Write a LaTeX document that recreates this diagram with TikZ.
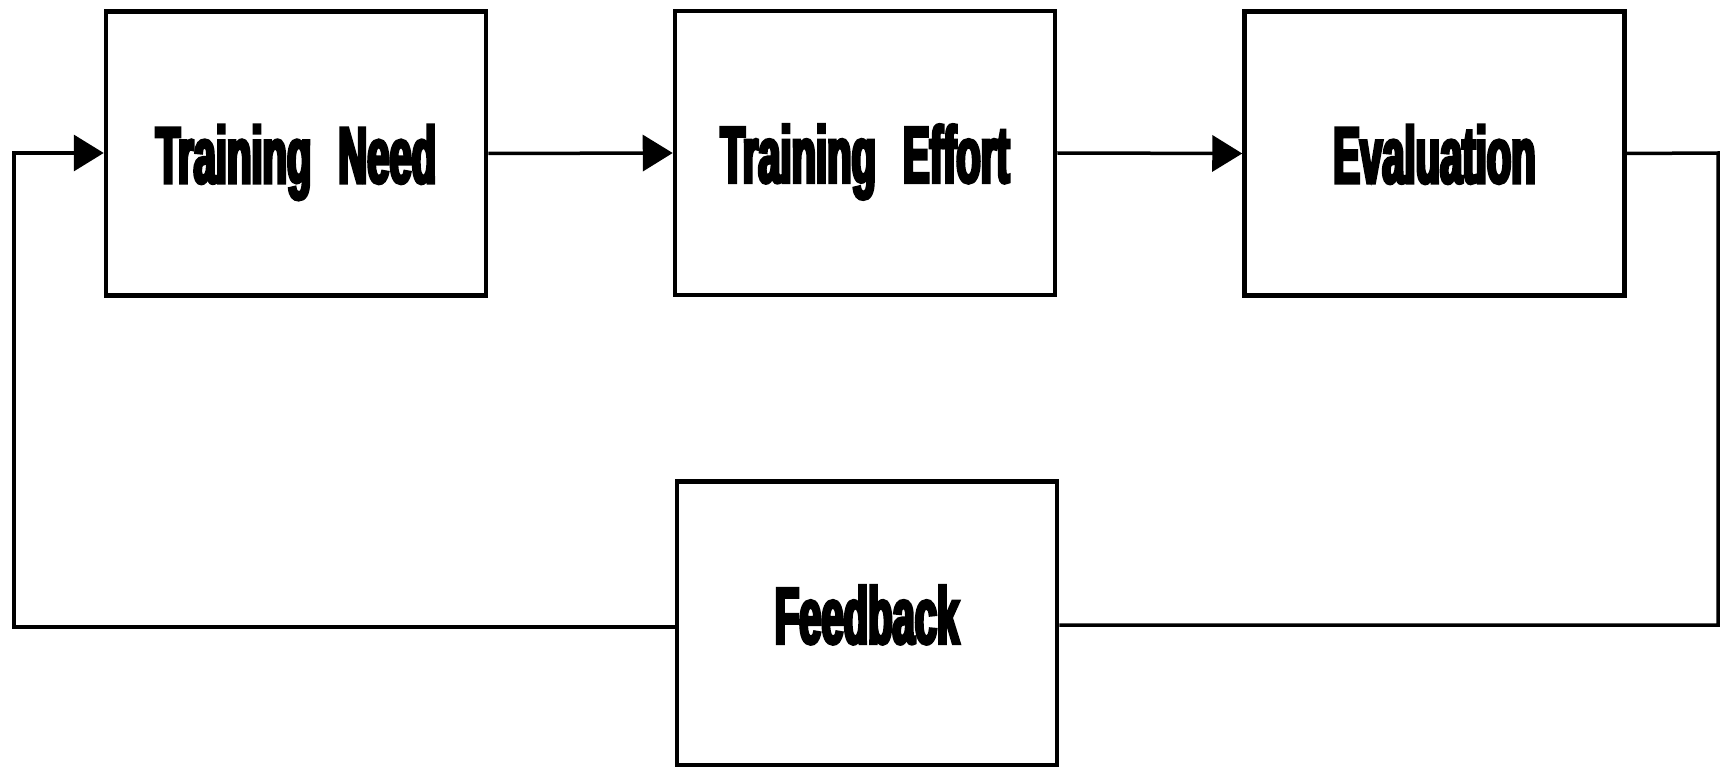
\documentclass[tikz,border=0pt]{standalone}
\usepackage{fontspec}
\usetikzlibrary{arrows.meta}
% heavy, narrow label face
\newfontfamily\boxfont[FakeStretch=0.50,FakeBold=4]{Liberation Sans}
\newcommand{\wgap}{\hspace{27pt}}
\begin{document}
\begin{tikzpicture}[x=1pt,y=-1pt,
  stagebox/.style={draw=black,line width=4.5pt,rectangle,inner sep=0pt,
    minimum width=380pt,minimum height=284pt,
    font=\boxfont\bfseries\fontsize{80}{80}\selectfont,
    text height=59pt,text depth=0pt},
  link/.style={draw=black,line width=3.5pt},
  flow/.style={link,-{Triangle[length=30pt,width=36pt]}}]
  \useasboundingbox (0,0) rectangle (1723,767);
  \fill[white] (0,0) rectangle (1723,767);

  % the three stages in a row
  \node[stagebox] (need)   at (296,153.5) {Training\wgap Need};
  \node[stagebox] (effort) at (865,153)   {Training\wgap Effort};
  \node[stagebox] (eval)   at (1434.5,153.5) {Evaluation};
  % feedback below, text set a little high
  \node[stagebox,text depth=19pt] (fb) at (867,623.5) {Feedback};

  % corners of the feedback loop
  \coordinate (ne) at (1718,153);
  \coordinate (se) at (1718,625);
  \coordinate (sw) at (14,627);
  \coordinate (nw) at (14,153);

  \draw[flow] (need.east) -- (effort.west);
  \draw[flow] (effort.east) -- (eval.west);
  \draw[link,line join=miter] (eval.east) -- (ne) -- (se) -- (fb.east |- se);
  \draw[flow,line join=miter] (fb.west |- sw) -- (sw) -- (nw) -- (need.west |- nw);
\end{tikzpicture}
\end{document}
